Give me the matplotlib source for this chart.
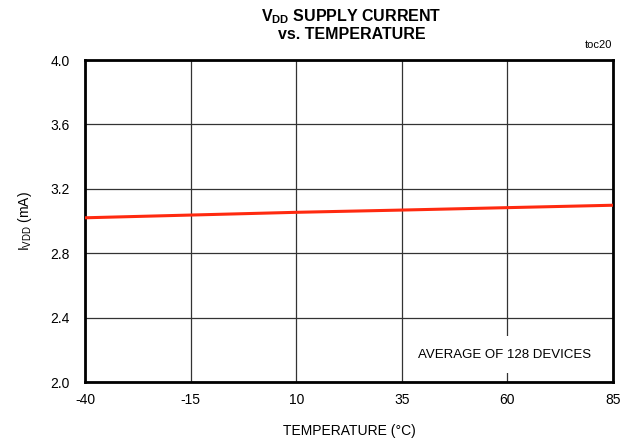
import matplotlib
matplotlib.use("Agg")
import matplotlib.pyplot as plt

plt.rcParams['font.family'] = ['Liberation Sans', 'DejaVu Sans']
plt.rcParams['axes.unicode_minus'] = False
plt.rcParams['mathtext.fontset'] = 'custom'
plt.rcParams['mathtext.rm'] = 'Liberation Sans'
plt.rcParams['mathtext.bf'] = 'Liberation Sans:bold'

# data
temperature = [-40, -15, 10, 35, 60, 85]
supply_current = [3.020, 3.037, 3.054, 3.068, 3.083, 3.098]

x_ticks = [-40, -15, 10, 35, 60, 85]
y_ticks = [2.0, 2.4, 2.8, 3.2, 3.6, 4.0]

fig = plt.figure(figsize=(6.32, 4.40), dpi=100)
ax = fig.add_axes([0.1345, 0.1318, 0.8355, 0.7318])

ax.plot(temperature, supply_current, color='#ff2a10', linewidth=2.2, zorder=3)

ax.set_xlim(-40, 85)
ax.set_ylim(2.0, 4.0)
ax.set_xticks(x_ticks)
ax.set_yticks(y_ticks)
ax.set_yticklabels([f'{v:.1f}' for v in y_ticks])
ax.tick_params(length=0, labelsize=10)
ax.tick_params(axis='x', pad=8)
ax.tick_params(axis='y', pad=11)
ax.grid(True, color='#333333', linewidth=0.9)

for s in ax.spines.values():
    s.set_linewidth(2)
    s.set_color('black')

ax.set_xlabel('TEMPERATURE (°C)', fontsize=10, labelpad=12)
ax.set_ylabel(r'I$_{\mathrm{VDD}}$ (mA)', fontsize=10, labelpad=12)

fig.text(0.556, 0.962, r'V$_{\mathbf{DD}}$ SUPPLY CURRENT', ha='center', va='center',
         fontsize=11.5, fontweight='bold')
fig.text(0.556, 0.922, 'vs. TEMPERATURE', ha='center', va='center',
         fontsize=11.5, fontweight='bold')
fig.text(0.968, 0.897, 'toc20', ha='right', va='center', fontsize=8)

ax.text(0.795, 0.084, 'AVERAGE OF 128 DEVICES', transform=ax.transAxes,
        ha='center', va='center', fontsize=9.5, zorder=4,
        bbox=dict(facecolor='white', edgecolor='none', pad=9))

fig.savefig('out.png', dpi=100)
